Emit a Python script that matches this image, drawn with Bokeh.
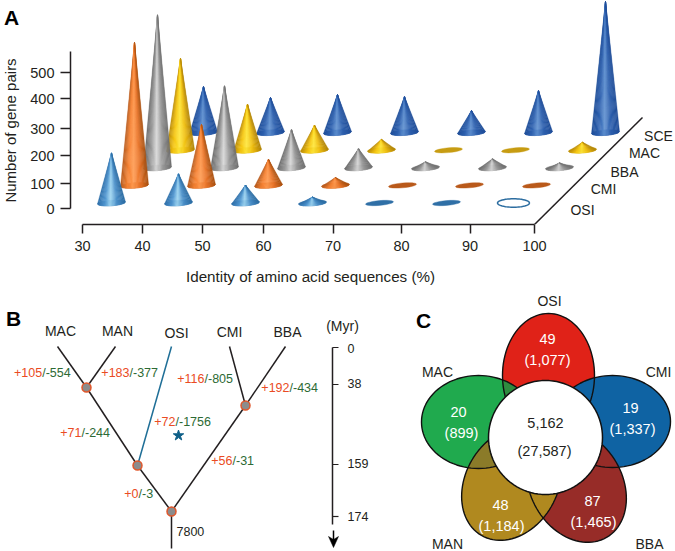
import math
from bokeh.embed import file_html
from bokeh.resources import INLINE
from bokeh.layouts import column, row
from bokeh.models import Range1d, FixedTicker, Label, LinearAxis
from bokeh.plotting import figure
from bokeh.core.properties import value

FONT = "Liberation Sans"

# ---------- data ----------
identity_bins = [35, 45, 55, 65, 75, 85, 95]
species_rows = ["OSI", "CMI", "BBA", "MAC", "SCE"]
osi_pairs = [184, 107, 66, 22, 3, 3, 0]
cmi_pairs = [526, 224, 96, 29, 3, 3, 3]
bba_pairs = [562, 301, 140, 70, 22, 33, 18]
mac_pairs = [338, 169, 92, 40, 3, 3, 29]
sce_pairs = [169, 129, 140, 132, 81, 154, 482]
row_pairs = [osi_pairs, cmi_pairs, bba_pairs, mac_pairs, sce_pairs]
x_tick_labels = ["30", "40", "50", "60", "70", "80", "90", "100"]
y_tick_labels = ["0", "100", "200", "300", "400", "500"]

tree_species = ["MAC", "MAN", "OSI", "CMI", "BBA"]
gains = ["+105", "+183", "+116", "+192", "+72", "+71", "+56", "+0"]
losses = ["/-554", "/-377", "/-805", "/-434", "/-1756", "/-244", "/-31", "/-3"]
time_labels = ["0", "38", "159", "174"]

venn_names = ["OSI", "MAC", "CMI", "BBA", "MAN"]
venn_unique = ["49", "20", "19", "87", "48"]
venn_total = ["(1,077)", "(899)", "(1,337)", "(1,465)", "(1,184)"]
core_unique = "5,162"
core_total = "(27,587)"

# ---------- panel A scale ----------
PX_UNIT_X = 6.7      # px per % identity
PX_UNIT_Y = 0.272    # px per gene pair
def ax(px): return (px - 111) / PX_UNIT_X + 35
def ay(py): return (208 - py) / PX_UNIT_Y

ROW_SHIFT_X = 23 / PX_UNIT_X
ROW_BASE_Y = [ay(202.5 - 17.6 * j) for j in range(5)]

# edge-left, body, highlight, body-right, edge-right, flat-disc colour
GRAD = [
    ("#2e6ea8", "#4f95cf", "#a0d6f2", "#4a8fc8", "#2c6ba2", "#2f6fa6"),
    ("#b55a1e", "#f58233", "#ff9a50", "#e8742a", "#a8500f", "#b9591a"),
    ("#6c6c6c", "#9a9a9a", "#d8d8d8", "#969696", "#6f6f6f", "#8d8d8d"),
    ("#b98a08", "#f5c511", "#ffe63a", "#eebd10", "#b08408", "#c79c12"),
    ("#1f4e98", "#2f62b0", "#5f90d0", "#2e60ae", "#1f4e98", "#24519d"),
]
STOPS = [0, 0.25, 0.47, 0.72, 1]

def hexrgb(h): return [int(h[i:i + 2], 16) for i in (1, 3, 5)]
def mix(a, b, t):
    A, B = hexrgb(a), hexrgb(b)
    return "#%02x%02x%02x" % tuple(round(A[k] + (B[k] - A[k]) * t) for k in range(3))

def grad(row_i, t):
    for s in range(4):
        if t <= STOPS[s + 1]:
            return mix(GRAD[row_i][s], GRAD[row_i][s + 1], (t - STOPS[s]) / (STOPS[s + 1] - STOPS[s]))
    return GRAD[row_i][4]

def txt(p, x, y, s, size="14px", color="#231f20", align="center", style="normal", angle=0):
    p.text([x], [y], text=[s], text_align=align, text_baseline="middle", angle=angle,
           text_font=value(FONT), text_font_size=value(size), text_color=color, text_font_style=style)

# narrow strip with the panel letter and the y title
STRIP = 22
pl = figure(width=STRIP, height=262, output_backend="svg", toolbar_location=None,
            x_range=Range1d(0, STRIP), y_range=Range1d(262, 0),
            min_border=0, x_axis_type=None, y_axis_type=None)
pl.grid.visible = False
pl.outline_line_color = None
txt(pl, 11, 17, "A", "21px", "black", style="bold")
txt(pl, 10, 130, "Number of gene pairs", "15px", angle=math.pi / 2)

pa = figure(width=675 - STRIP, height=262, output_backend="svg", toolbar_location=None,
            x_range=Range1d(ax(70), ax(675)), y_range=Range1d(ay(224), ay(0)),
            min_border_left=70 - STRIP, min_border_right=0, min_border_top=0, min_border_bottom=38,
            x_axis_type=None, y_axis_type=None)
pa.grid.visible = False
pa.outline_line_color = None
pa.background_fill_color = "white"

x_ticks = [ax(v) for v in (82, 142, 202, 263, 332.5, 401, 469.5, 534)]
y_ticks = [ay(v) for v in (208, 183, 155, 128, 98, 72)]
xa = LinearAxis(ticker=FixedTicker(ticks=x_ticks),
                major_label_overrides=dict(zip(x_ticks, x_tick_labels)),
                bounds=(x_ticks[0], x_ticks[-1]))
ya = LinearAxis(ticker=FixedTicker(ticks=y_ticks),
                major_label_overrides=dict(zip(y_ticks, y_tick_labels)),
                bounds=(ay(208), ay(51)))
for a in (xa, ya):
    a.axis_line_color = "#231f20"
    a.axis_line_width = 1.5
    a.major_tick_line_color = "#231f20"
    a.major_tick_line_width = 1.5
    a.major_tick_in = 0
    a.minor_tick_line_color = None
    a.major_label_text_font = FONT
    a.major_label_text_font_size = "14.5px"
    a.major_label_text_color = "#231f20"
xa.major_tick_out = 9
xa.major_label_standoff = 7
ya.major_tick_out = 10
ya.major_label_standoff = 6
pa.add_layout(xa, "below")
pa.add_layout(ya, "left")

px_a, py_a, col_a = [], [], []
for j in reversed(range(5)):
    vals = row_pairs[j]
    for i, v in enumerate(vals):
        cx = identity_bins[i] + ROW_SHIFT_X * j
        cy = ROW_BASE_Y[j]
        hw = 14 / PX_UNIT_X
        if v == 0:
            continue
        if v <= 5:
            us = [k / 24 * 2 * math.pi for k in range(24)]
            px_a.append([cx + hw * math.cos(t) for t in us])
            py_a.append([cy + (1.2 * math.cos(t) + 2.4 * math.sin(t)) / PX_UNIT_Y for t in us])
            col_a.append(GRAD[j][5])
            continue
        us = [k / 24 * 2 * math.pi for k in range(24)]
        px_a.append([cx + hw * math.cos(t) for t in us])
        py_a.append([cy + (1.0 * math.cos(t) + 2.8 * math.sin(t)) / PX_UNIT_Y for t in us])
        col_a.append(GRAD[j][5])
        N = 22
        for k in range(N):
            u0, u1 = -1 + 2 * k / N, -1 + 2 * (k + 1) / N
            xs = [cx, cx + hw * u0, cx + hw * u1]
            ys = [cy + v,
                  cy + (1.0 * u0 - 2.8 * math.sqrt(max(0, 1 - u0 * u0))) / PX_UNIT_Y,
                  cy + (1.0 * u1 - 2.8 * math.sqrt(max(0, 1 - u1 * u1))) / PX_UNIT_Y]
            px_a.append(xs); py_a.append(ys); col_a.append(grad(j, (k + .5) / N))
pa.patches(px_a, py_a, fill_color=col_a, line_color=col_a, line_width=0.4)

# empty OSI 95% class: an open ring
ring_t = [k / 48 * 2 * math.pi for k in range(49)]
pa.line([identity_bins[6] + 16 / PX_UNIT_X * math.cos(t) for t in ring_t],
        [ROW_BASE_Y[0] + 4.2 / PX_UNIT_Y * math.sin(t) for t in ring_t],
        line_color="#2c6da0", line_width=1.5)

# depth axis
pa.line([x_ticks[-1], ax(642)], [ay(224), ay(117)], line_color="#231f20", line_width=1.5)
for name, lx, ly in zip(species_rows, (582, 603, 624, 644, 658), (209, 188, 171, 152, 135)):
    pa.add_layout(Label(x=ax(lx), y=ay(ly), text=name, text_align="center", text_baseline="middle",
                        text_font=FONT, text_font_size="14px", text_color="#231f20"))

# ---------- panels B and C ----------
pb = figure(width=675, height=289, output_backend="svg", toolbar_location=None,
            x_range=Range1d(0, 675), y_range=Range1d(551, 262),
            min_border=0, x_axis_type=None, y_axis_type=None)
pb.grid.visible = False
pb.outline_line_color = None

txt(pb, 310, 276, "Identity of amino acid sequences (%)", "15.2px")
txt(pb, 13, 318, "B", "21px", "black", style="bold")
for name, lx, ly in zip(tree_species, (60, 117, 176, 229, 287), (330, 330, 332, 331, 331)):
    txt(pb, lx, ly, name)
txt(pb, 342, 325, "(Myr)")

N1, N2, N3, N4 = (86, 387), (137, 465), (245, 405), (171, 511)
black_edges = [((57, 346), N1), ((115, 346), N1), (N1, N2), ((229, 346), N3), ((285, 346), N3),
               (N3, N4), (N2, N4), (N4, (171, 548))]
pb.multi_line([[e[0][0], e[1][0]] for e in black_edges], [[e[0][1], e[1][1]] for e in black_edges],
              line_color="#231f20", line_width=1.5)
pb.line([171, N2[0]], [346, N2[1]], line_color="#1f6f97", line_width=1.5)
pb.scatter([n[0] for n in (N1, N2, N3, N4)], [n[1] for n in (N1, N2, N3, N4)], size=9,
           fill_color="#8c8c8c", line_color="#e0562a", line_width=1.5)

split_x = [41.7, 129, 204, 289, 175, 81, 232, 138]
split_y = [372, 372, 378, 387, 421, 432, 460, 493]
for g, l, sx, sy in zip(gains, losses, split_x, split_y):
    txt(pb, sx, sy, g, "12.5px", "#ea4b23", "right")
    txt(pb, sx, sy, l, "12.5px", "#2d6a34", "left")
pb.scatter([178], [435], marker="star", size=11, fill_color="#0e5f88", line_color="#0e5f88")
txt(pb, 176, 531, "7800", "12.5px", align="left")

# time axis
pb.line([332, 332], [347, 524], line_color="#231f20", line_width=1.5)
for lab, ty, ly in zip(time_labels, (347, 384, 464, 516), (348, 383, 463, 516)):
    pb.line([332, 338], [ty, ty], line_color="#231f20", line_width=1.2)
    txt(pb, 347, ly, lab, "12.5px", align="left")
pb.line([333, 333], [530, 540], line_color="black", line_width=1.5)
pb.patch([328, 333, 338, 333], [536, 539, 536, 547], fill_color="black", line_color="black", line_width=0.5)

# Venn
def ell(cx, cy, a, b, phi):
    """Ellipse with semi-axis a along a direction phi degrees from horizontal."""
    r = math.radians(phi)
    out_x, out_y = [], []
    for k in range(96):
        t = k / 96 * 2 * math.pi
        u, v = a * math.cos(t), b * math.sin(t)
        out_x.append(cx + u * math.cos(r) - v * math.sin(r))
        out_y.append(cy + u * math.sin(r) + v * math.cos(r))
    return out_x, out_y

def inside(px, py, cx, cy, a, b, phi):
    r = math.radians(phi)
    dx, dy = px - cx, py - cy
    u = dx * math.cos(r) + dy * math.sin(r)
    v = -dx * math.sin(r) + dy * math.cos(r)
    return (u / a) ** 2 + (v / b) ** 2 <= 1

def overlap(l1, l2):
    """Both lobes are convex, so the points on either rim inside the other, taken by angle, outline the overlap."""
    pts = [pt for pt in zip(*ell(*l1[:5])) if inside(*pt, *l2[:5])]
    pts += [pt for pt in zip(*ell(*l2[:5])) if inside(*pt, *l1[:5])]
    mx = sum(q[0] for q in pts) / len(pts)
    my = sum(q[1] for q in pts) / len(pts)
    pts.sort(key=lambda q: math.atan2(q[1] - my, q[0] - mx))
    return [q[0] for q in pts], [q[1] for q in pts]

lobes = [
    (548, 375, 62, 46, 90, "#e02218"),
    (478, 421.5, 57, 46.5, 0, "#20aa4e"),
    (612, 421, 58, 46, 0, "#0f63a3"),
    (576, 485, 60, 46, 60, "#972c28"),
    (511, 483, 60, 46, 120, "#b0891f"),
]
shapes = [ell(*l[:5]) for l in lobes]
pb.patches([s[0] for s in shapes], [s[1] for s in shapes], fill_color=[l[5] for l in lobes], line_color=None)
for la, lb, shade in ((lobes[0], lobes[1], "#2e8c3f"), (lobes[4], lobes[1], "#8b7b29")):
    ox, oy = overlap(la, lb)
    pb.patch(ox, oy, fill_color=shade, line_color=None)
pb.multi_line([s[0] + s[0][:1] for s in shapes], [s[1] + s[1][:1] for s in shapes],
              line_color="#111111", line_width=1.4)
cx_, cy_ = ell(545, 437, 57, 57, 0)
pb.patch(cx_ + cx_[:1], cy_ + cy_[:1], fill_color="white", line_color="#111111", line_width=1.5)

for name, lx, ly in zip(venn_names, (549, 437, 658, 649, 447), (300, 371, 371, 543, 543)):
    txt(pb, lx, ly, name)
for s, x, y in zip(venn_unique, (547, 458, 630, 592, 500), (338, 411, 407, 500, 504)):
    txt(pb, x, y, s, "14.5px", "white")
for s, x, y in zip(venn_total, (547, 461, 632, 593, 501), (359, 432, 428, 521, 525)):
    txt(pb, x, y, s, "14.5px", "white")
txt(pb, 545, 422, core_unique, "14.5px")
txt(pb, 544, 450, core_total, "14.5px")
txt(pb, 423, 320, "C", "21px", "black", style="bold")

page = column(row(column(pl), column(pa), spacing=0), column(pb), spacing=0)
open("out.html", "w").write(file_html(page, INLINE))
